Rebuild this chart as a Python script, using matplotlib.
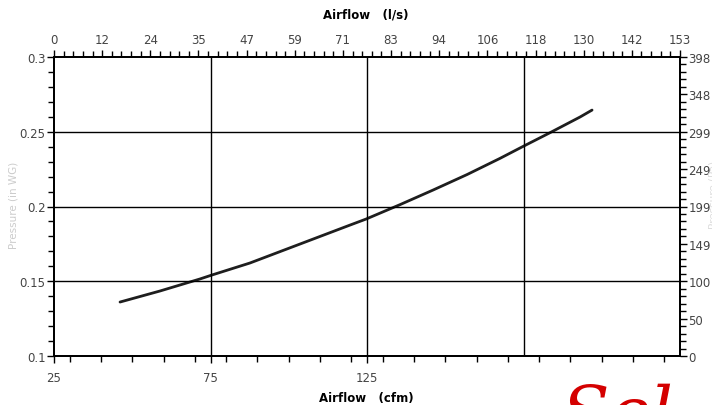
import numpy as np
import matplotlib.pyplot as plt
from matplotlib.ticker import FixedLocator, MultipleLocator, AutoMinorLocator

# curve (cfm -> in WG)
airflow_cfm = [46.1, 58.9, 71.6, 75.5, 87.6, 103.6, 119.6, 124.7, 135.5, 146.1,
               157.0, 167.5, 174.5, 183.5, 193.1, 196.9]
pressure_inwg = [0.1361, 0.1435, 0.1515, 0.1542, 0.1622, 0.1749, 0.1876, 0.1916,
                 0.2012, 0.2110, 0.2214, 0.2322, 0.2398, 0.2494, 0.2599, 0.2645]

cfm_ticks = [25, 75, 125]
ls_labels = ["0", "12", "24", "35", "47", "59", "71", "83", "94", "106", "118", "130", "142", "153"]
pa_labels = ["0", "50", "100", "149", "199", "249", "299", "348", "398"]
y_ticks = [0.1, 0.15, 0.2, 0.25, 0.3]
y_ticklabels = ["0.1", "0.15", "0.2", "0.25", "0.3"]

plt.rcParams["font.family"] = ["Liberation Sans Narrow", "DejaVu Sans"]
tick_color = "#444444"
fs = 8.5

fig = plt.figure(figsize=(7.12, 4.06), dpi=100)
ax = fig.add_axes([54 / 712, 49 / 406, 626 / 712, 299 / 406])

ax.plot(airflow_cfm, pressure_inwg, color="#1e1e1e", lw=2, solid_capstyle="round")

ax.set_xlim(25, 225)
ax.set_ylim(0.1, 0.3)
ax.xaxis.set_major_locator(FixedLocator(cfm_ticks))
ax.xaxis.set_minor_locator(MultipleLocator(10))
ax.yaxis.set_major_locator(FixedLocator(y_ticks))
ax.set_yticklabels(y_ticklabels)
ax.yaxis.set_minor_locator(MultipleLocator(0.01))

# grid lines
for x in [75, 125, 175]:
    ax.axvline(x, color="black", lw=1)
for y in [0.15, 0.2, 0.25]:
    ax.axhline(y, color="black", lw=1)

for s in ax.spines.values():
    s.set_linewidth(1.2)
    s.set_color("black")

ax.tick_params(which="major", direction="out", length=5, width=1, colors="black",
               labelcolor=tick_color, labelsize=fs)
ax.tick_params(which="minor", direction="out", length=4, width=1, colors="black")
ax.tick_params(axis="x", pad=6)
ax.tick_params(axis="y", pad=1)

# axis titles
fig.text(366 / 712, 1 - 399 / 406, "Airflow   (cfm)", fontsize=8.5, fontweight="bold",
         family="DejaVu Sans", ha="center", va="center")
fig.text(366 / 712, 1 - 15 / 406, "Airflow   (l/s)", fontsize=8.5, fontweight="bold",
         family="DejaVu Sans", ha="center", va="center")
fig.text(14 / 712, 1 - 205 / 406, "Pressure (in WG)", rotation=90, fontsize=7.5,
         color="#cccccc", ha="center", va="center")

# top axis, l/s
top = ax.twiny()
top.set_xlim(0, 153)
top_pos = np.linspace(0, 153, len(ls_labels))
top.xaxis.set_major_locator(FixedLocator(top_pos))
top.set_xticklabels(ls_labels)
top.xaxis.set_minor_locator(AutoMinorLocator(5))
top.tick_params(which="major", direction="out", length=5, width=1, colors="black",
                labelcolor=tick_color, labelsize=fs, pad=3)
top.tick_params(which="minor", direction="out", length=4, width=1, colors="black")

# right axis, Pa
right = ax.twinx()
right.set_ylim(0, 398)
right_pos = np.linspace(0, 398, len(pa_labels))
right.yaxis.set_major_locator(FixedLocator(right_pos))
right.set_yticklabels(pa_labels)
right.yaxis.set_minor_locator(AutoMinorLocator(5))
right.tick_params(which="major", direction="out", length=5, width=1, colors="black",
                  labelcolor=tick_color, labelsize=fs, pad=1)
right.tick_params(which="minor", direction="out", length=4, width=1, colors="black")
for a in (top, right):
    for s in a.spines.values():
        s.set_linewidth(1.2)

# right title, mostly outside the picture as in the reference
fig.text(709 / 712, 0.52, "Pressure (Pa)", rotation=90, fontsize=7.5, color="#dddddd",
         ha="left", va="center")

# red script logo, cut off at the bottom right
fig.text(0.79, -0.11, "Sel", fontsize=50, color="#d40000", style="italic",
         family="DejaVu Serif", ha="left", va="bottom")

fig.savefig("out.png", dpi=100)
